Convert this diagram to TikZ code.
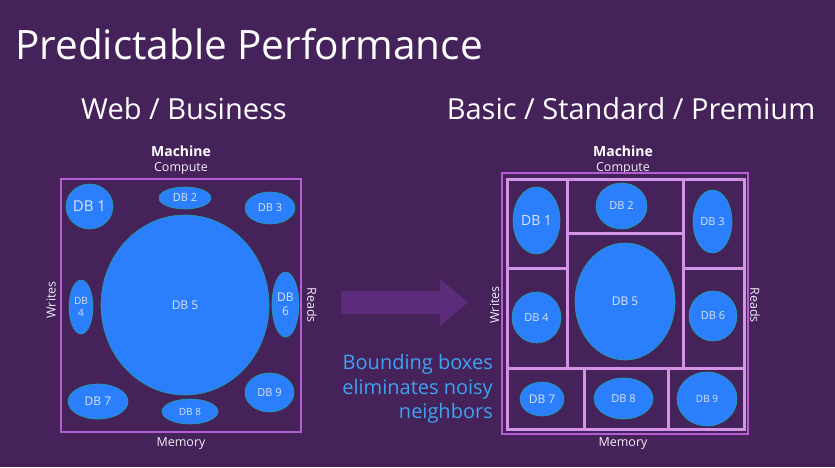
\documentclass[tikz,border=0pt]{standalone}
\usepackage{fontspec}
\setmainfont{Open Sans}
\usetikzlibrary{shapes.geometric}
\definecolor{bg}{HTML}{45235A}
\definecolor{dbblue}{HTML}{2B7EFC}
\definecolor{dbedge}{HTML}{1FA3A0}
\definecolor{framec}{HTML}{B55ED3}
\definecolor{cellc}{HTML}{D494E6}
\definecolor{arrowc}{HTML}{5A2C7A}
\definecolor{notec}{HTML}{3EA2F2}
\definecolor{dbtext}{HTML}{DCE4F4}
\definecolor{labelc}{HTML}{F2ECF6}
\newcommand\fsz[1]{\fontsize{#1}{#1}\selectfont}
\begin{document}
\begin{tikzpicture}[x=1pt,y=-1pt,
  db/.style={ellipse, fill=dbblue, draw=dbedge, line width=0.6pt, inner sep=0pt,
    text=dbtext, align=center, font=\fsz{11}},
  heading/.style={text=white, inner sep=0pt},
  axis/.style={text=labelc, inner sep=0pt, font=\fsz{12.5}},
  machine/.style={text=white, inner sep=0pt, font=\bfseries\fsz{14}},
  outerframe/.style={draw=framec, line width=2pt},
  cellline/.style={draw=cellc, line width=3pt},
]
% background
\fill[bg] (0,0) rectangle (835,467);
\useasboundingbox (0,0) rectangle (835,467);

% titles
\node[heading, anchor=base west, font=\fsz{40.5}] (title) at (15,59) {Predictable Performance};
\node[heading, anchor=base, font=\fsz{29}] (webbiz) at (184,119) {Web / Business};
\node[heading, anchor=base, font=\fsz{29}] (tiers) at (631,119) {Basic / Standard / Premium};

% ---------- shared machine (left) ----------
\node[machine, anchor=base] (lmachine) at (181,156) {Machine};
\node[axis, anchor=base] (lcompute) at (181,171) {Compute};
\node[axis, anchor=base] (lmemory) at (181,446) {Memory};
\node[axis, rotate=90] (lwrites) at (51,300) {Writes};
\node[axis, rotate=-90] (lreads) at (312,305) {Reads};
\draw[outerframe] (61,179) rectangle (301,432);

\node[db, minimum width=47pt, minimum height=45pt, font=\fsz{15}] (l1) at (89.5,206.5) {DB 1};
\node[db, minimum width=52pt, minimum height=22pt, font=\fsz{11}] (l2) at (185,198) {DB 2};
\node[db, minimum width=50pt, minimum height=32pt, font=\fsz{11}] (l3) at (270,208) {DB 3};
\node[db, minimum width=168pt, minimum height=180pt, font=\fsz{12}] (l5) at (185,305) {DB 5};
\node[db, minimum width=24pt, minimum height=54pt, font=\fontsize{10}{12}\selectfont] (l4) at (81,307) {DB\\4};
\node[db, minimum width=27pt, minimum height=65pt, font=\fontsize{12}{14}\selectfont] (l6) at (285.5,304.5) {DB\\6};
\node[db, minimum width=60pt, minimum height=35pt, font=\fsz{12}] (l7) at (98,401.5) {DB 7};
\node[db, minimum width=56pt, minimum height=25pt, font=\fsz{10}] (l8) at (190,411.5) {DB 8};
\node[db, minimum width=49pt, minimum height=39pt, font=\fsz{11}] (l9) at (269.5,392.5) {DB 9};

% ---------- arrow ----------
\fill[arrowc] (341,291) -- (440,291) -- (440,279) -- (468,302.5) -- (440,326) -- (440,314) -- (341,314) -- cycle;

\node[anchor=east, align=right, text=notec, inner sep=0pt, font=\fontsize{20}{24.7}\selectfont] (note) at (493,389)
  {Bounding boxes\\eliminates noisy\\neighbors};

% ---------- bounded machine (right) ----------
\node[machine, anchor=base] (rmachine) at (623,156) {Machine};
\node[axis, anchor=base] (rcompute) at (623,171) {Compute};
\node[axis, anchor=base] (rmemory) at (623,446) {Memory};
\node[axis, rotate=90] (rwrites) at (494.5,305) {Writes};
\node[axis, rotate=-90] (rreads) at (755,305) {Reads};
\draw[outerframe] (502,173) rectangle (748,434);

% resource cells
\draw[cellline] (507,179) rectangle (744,429);
\draw[cellline] (567,179) -- (567,368);
\draw[cellline] (683,179) -- (683,368);
\draw[cellline] (567,233) -- (683,233);
\draw[cellline] (507,268) -- (567,268);
\draw[cellline] (683,268) -- (744,268);
\draw[cellline] (507,368) -- (744,368);
\draw[cellline] (584,368) -- (584,429);
\draw[cellline] (668,368) -- (668,429);

\node[db, minimum width=47pt, minimum height=67pt, font=\fsz{14}] (r1) at (536.5,220.5) {DB 1};
\node[db, minimum width=51pt, minimum height=46pt, font=\fsz{11}] (r2) at (621.5,206) {DB 2};
\node[db, minimum width=39pt, minimum height=63pt, font=\fsz{11}] (r3) at (712.5,221.5) {DB 3};
\node[db, minimum width=100pt, minimum height=117pt, font=\fsz{12}] (r5) at (625,301.5) {DB 5};
\node[db, minimum width=49pt, minimum height=51pt, font=\fsz{11}] (r4) at (536.5,317.5) {DB 4};
\node[db, minimum width=48pt, minimum height=50pt, font=\fsz{11}] (r6) at (713,316) {DB 6};
\node[db, minimum width=44pt, minimum height=34pt, font=\fsz{12}] (r7) at (542,399) {DB 7};
\node[db, minimum width=59pt, minimum height=41pt, font=\fsz{11}] (r8) at (623.5,398.5) {DB 8};
\node[db, minimum width=60pt, minimum height=54pt, font=\fsz{10}] (r9) at (707,399) {DB 9};
\end{tikzpicture}
\end{document}
